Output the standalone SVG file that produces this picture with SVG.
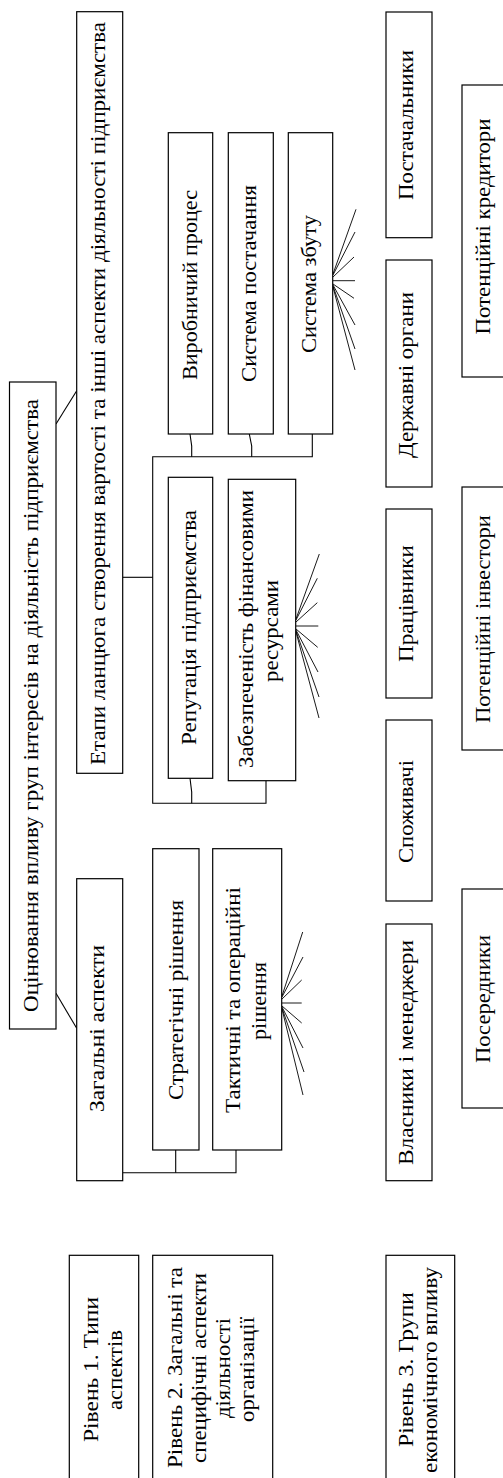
<svg xmlns="http://www.w3.org/2000/svg" width="503" height="1478" viewBox="0 0 503 1478">
<style>
.box{fill:#fff;stroke:#000;stroke-width:1.2}
.ln{fill:none;stroke:#000;stroke-width:1.1}
.fan{fill:none;stroke:#000;stroke-width:0.9}
.t{font-family:"Liberation Serif","Times New Roman",serif;font-size:21px;fill:#000;text-anchor:middle}
</style>
<rect width="503" height="1478" fill="#fff"/>
<g id="connectors">
<line class="ln" x1="56" y1="993.3" x2="76.7" y2="1028.3"/>
<line class="ln" x1="56" y1="424" x2="76.7" y2="390.7"/>
<polyline class="ln" points="122.7,1172.7 236,1172.7 236,1150"/>
<line class="ln" x1="175.7" y1="1150" x2="175.7" y2="1172.7"/>
<line class="ln" x1="122.7" y1="577.3" x2="152.7" y2="577.3"/>
<polyline class="ln" points="312.3,434 312.3,456.7 152.7,456.7 152.7,803.3 266,803.3 266,780.7"/>
<polyline class="ln" points="190,434 191.7,446 191.7,456.7"/>
<polyline class="ln" points="249.3,434 251.7,446 251.7,456.7"/>
<polyline class="ln" points="190,778.3 191.7,792 191.7,803.3"/>
<g id="fan-tactical">
<line class="fan" x1="282" y1="996" x2="302.7" y2="932"/>
<line class="fan" x1="282" y1="997" x2="303" y2="957"/>
<line class="fan" x1="282" y1="999" x2="301.7" y2="980"/>
<line class="fan" x1="282" y1="1003" x2="301.7" y2="1003"/>
<line class="fan" x1="282" y1="1006" x2="301.7" y2="1023"/>
<line class="fan" x1="282" y1="1007" x2="303" y2="1048"/>
<line class="fan" x1="282" y1="1008" x2="304" y2="1072"/>
<line class="fan" x1="282" y1="1009" x2="303" y2="1095"/>
</g>
<g id="fan-finance">
<line class="fan" x1="296" y1="619" x2="319.3" y2="554"/>
<line class="fan" x1="296" y1="620" x2="317.3" y2="578.3"/>
<line class="fan" x1="296" y1="622" x2="317.3" y2="602.7"/>
<line class="fan" x1="296" y1="626" x2="318.3" y2="626"/>
<line class="fan" x1="296" y1="629" x2="317.7" y2="647.3"/>
<line class="fan" x1="296" y1="630" x2="318" y2="672"/>
<line class="fan" x1="296" y1="631" x2="319" y2="697"/>
<line class="fan" x1="296" y1="632" x2="319" y2="718"/>
</g>
<g id="fan-sales">
<line class="fan" x1="333" y1="274" x2="356" y2="209.3"/>
<line class="fan" x1="333" y1="275" x2="355" y2="232"/>
<line class="fan" x1="333" y1="277" x2="354" y2="257"/>
<line class="fan" x1="333" y1="280.7" x2="355" y2="280.7"/>
<line class="fan" x1="333" y1="284" x2="354" y2="298.3"/>
<line class="fan" x1="333" y1="285" x2="355" y2="325"/>
<line class="fan" x1="333" y1="286" x2="355" y2="349"/>
<line class="fan" x1="333" y1="287" x2="355" y2="370"/>
</g>
</g>
<g id="main">
<rect class="box" x="9.5" y="382" width="46.5" height="647"/>
<text class="t" transform="translate(38,705.5) rotate(-90)" textLength="613" lengthAdjust="spacingAndGlyphs">Оцінювання впливу груп інтересів на діяльність підприємства</text>
</g>
<g id="general">
<rect class="box" x="76.7" y="878.7" width="46" height="302"/>
<text class="t" transform="translate(104,1028.5) rotate(-90)" textLength="167" lengthAdjust="spacingAndGlyphs">Загальні аспекти</text>
</g>
<g id="stages">
<rect class="box" x="76.7" y="11.7" width="46" height="761.6"/>
<text class="t" transform="translate(105,393.5) rotate(-90)" textLength="743" lengthAdjust="spacingAndGlyphs">Етапи ланцюга створення вартості та інші аспекти діяльності підприємства</text>
</g>
<g id="strategic">
<rect class="box" x="152.7" y="848.7" width="46.3" height="301.3"/>
<text class="t" transform="translate(183,1000) rotate(-90)" textLength="200" lengthAdjust="spacingAndGlyphs">Стратегічні рішення</text>
</g>
<g id="tactical">
<rect class="box" x="212.7" y="848.7" width="69" height="301.3"/>
<text class="t" transform="translate(240,1000) rotate(-90)" textLength="226" lengthAdjust="spacingAndGlyphs">Тактичні та операційні</text>
<text class="t" transform="translate(266,1001) rotate(-90)" textLength="78" lengthAdjust="spacingAndGlyphs">рішення</text>
</g>
<g id="production">
<rect class="box" x="168.3" y="132.7" width="44.4" height="301.3"/>
<text class="t" transform="translate(197,285) rotate(-90)" textLength="190" lengthAdjust="spacingAndGlyphs">Виробничий процес</text>
</g>
<g id="supply">
<rect class="box" x="228.3" y="132.7" width="45" height="301.3"/>
<text class="t" transform="translate(256,283.5) rotate(-90)" textLength="197" lengthAdjust="spacingAndGlyphs">Система постачання</text>
</g>
<g id="sales">
<rect class="box" x="288.3" y="132.7" width="44.4" height="301.3"/>
<text class="t" transform="translate(316,284) rotate(-90)" textLength="138" lengthAdjust="spacingAndGlyphs">Система збуту</text>
</g>
<g id="reputation">
<rect class="box" x="168.3" y="477.3" width="44.4" height="301"/>
<text class="t" transform="translate(196,627.5) rotate(-90)" textLength="235" lengthAdjust="spacingAndGlyphs">Репутація підприємства</text>
</g>
<g id="finance">
<rect class="box" x="228.3" y="479.3" width="67.4" height="301.4"/>
<text class="t" transform="translate(253,629) rotate(-90)" textLength="278" lengthAdjust="spacingAndGlyphs">Забезпеченість фінансовими</text>
<text class="t" transform="translate(278,631) rotate(-90)" textLength="102" lengthAdjust="spacingAndGlyphs">ресурсами</text>
</g>
<g id="level1">
<rect class="box" x="69.3" y="1255.3" width="69.4" height="240"/>
<text class="t" transform="translate(98,1369.5) rotate(-90)" textLength="145" lengthAdjust="spacingAndGlyphs">Рівень 1. Типи</text>
<text class="t" transform="translate(122,1370) rotate(-90)" textLength="80" lengthAdjust="spacingAndGlyphs">аспектів</text>
</g>
<g id="level2">
<rect class="box" x="152.7" y="1255.3" width="120" height="240"/>
<text class="t" transform="translate(182,1367.5) rotate(-90)" textLength="201" lengthAdjust="spacingAndGlyphs">Рівень 2. Загальні та</text>
<text class="t" transform="translate(206,1368) rotate(-90)" textLength="190" lengthAdjust="spacingAndGlyphs">специфічні аспекти</text>
<text class="t" transform="translate(230,1368) rotate(-90)" textLength="100" lengthAdjust="spacingAndGlyphs">діяльності</text>
<text class="t" transform="translate(254,1369.5) rotate(-90)" textLength="105" lengthAdjust="spacingAndGlyphs">організації</text>
</g>
<g id="level3">
<rect class="box" x="386" y="1255.3" width="68.7" height="240"/>
<text class="t" transform="translate(413,1369.5) rotate(-90)" textLength="155" lengthAdjust="spacingAndGlyphs">Рівень 3. Групи</text>
<text class="t" transform="translate(437,1370) rotate(-90)" textLength="206" lengthAdjust="spacingAndGlyphs">економічного впливу</text>
</g>
<g id="owners">
<rect class="box" x="386" y="924" width="46" height="256.7"/>
<text class="t" transform="translate(413,1052.5) rotate(-90)" textLength="225" lengthAdjust="spacingAndGlyphs">Власники і менеджери</text>
</g>
<g id="consumers">
<rect class="box" x="386" y="720" width="46" height="181"/>
<text class="t" transform="translate(413,811.5) rotate(-90)" textLength="103" lengthAdjust="spacingAndGlyphs">Споживачі</text>
</g>
<g id="employees">
<rect class="box" x="386" y="509" width="46" height="189"/>
<text class="t" transform="translate(413,603.5) rotate(-90)" textLength="117" lengthAdjust="spacingAndGlyphs">Працівники</text>
</g>
<g id="government">
<rect class="box" x="386" y="260" width="46" height="227"/>
<text class="t" transform="translate(413,375) rotate(-90)" textLength="166" lengthAdjust="spacingAndGlyphs">Державні органи</text>
</g>
<g id="suppliers">
<rect class="box" x="386" y="12" width="46" height="225.7"/>
<text class="t" transform="translate(413,125) rotate(-90)" textLength="150" lengthAdjust="spacingAndGlyphs">Постачальники</text>
</g>
<g id="creditors">
<rect class="box" x="462" y="85" width="60" height="292"/>
<text class="t" transform="translate(490,226.5) rotate(-90)" textLength="216" lengthAdjust="spacingAndGlyphs">Потенційні кредитори</text>
</g>
<g id="investors">
<rect class="box" x="462" y="487" width="60" height="263"/>
<text class="t" transform="translate(490,619) rotate(-90)" textLength="208" lengthAdjust="spacingAndGlyphs">Потенційні інвестори</text>
</g>
<g id="intermediaries">
<rect class="box" x="462" y="889" width="60" height="219"/>
<text class="t" transform="translate(490,999) rotate(-90)" textLength="128" lengthAdjust="spacingAndGlyphs">Посередники</text>
</g>
</svg>
